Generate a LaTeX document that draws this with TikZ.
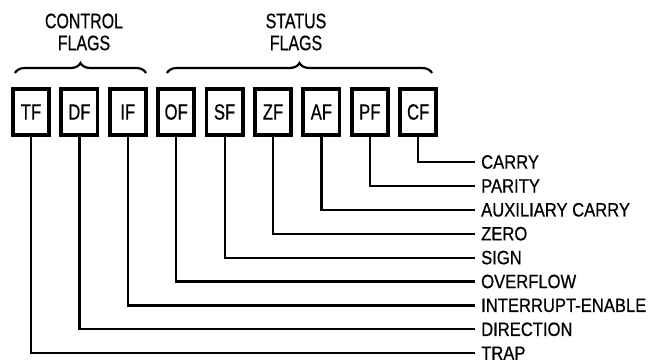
\documentclass[tikz,border=0pt]{standalone}
\usepackage{fontspec}
\setmainfont{Liberation Sans}
\newfontfamily\narrowfont[FakeStretch=0.76, FakeBold=0.6]{Liberation Sans}
\newfontfamily\labelfont[FakeStretch=0.86, FakeBold=0.6]{Liberation Sans}
\usetikzlibrary{decorations.pathreplacing}

\tikzset{
  flagbox/.style={draw, line width=3.8pt, minimum width=36.2pt, minimum height=46.2pt,
    inner sep=0pt, font=\narrowfont\fontsize{22}{22}\selectfont},
  flagname/.style={anchor=west, inner sep=0pt, xshift=6pt, font=\labelfont\fontsize{19.3}{19.3}\selectfont},
  heading/.style={align=center, inner sep=0pt, font=\narrowfont\fontsize{21}{22}\selectfont},
  wire/.style={line width=2.2pt},
  group/.style={line width=2.2pt, decorate, decoration={brace, amplitude=10pt}}
}

\begin{document}
\begin{tikzpicture}[x=1pt, y=-1pt]
\useasboundingbox (0,0) rectangle (653,362);
% the flag register, left to right
\node[flagbox] (tf) at (31,112) {TF};
\node[flagbox] (df) at (79.4,112) {DF};
\node[flagbox] (if) at (127.8,112) {IF};
\node[flagbox] (of) at (176.2,112) {OF};
\node[flagbox] (sf) at (224.6,112) {SF};
\node[flagbox] (zf) at (273,112) {ZF};
\node[flagbox] (af) at (321.4,112) {AF};
\node[flagbox] (pf) at (369.8,112) {PF};
\node[flagbox] (cf) at (418.2,112) {CF};
% group braces and headings
\draw[group] (15,73) -- (146,73);
\draw[group] (167,73) -- (432,73);
\node[heading] (ctrl) at (84,32) {CONTROL\\FLAGS};
\node[heading] (stat) at (296,32) {STATUS\\FLAGS};
% flag names
\node[flagname] (carry) at (475,162) {CARRY};
\node[flagname] (parity) at (475,185.9) {PARITY};
\node[flagname] (auxcarry) at (475,209.8) {AUXILIARY CARRY};
\node[flagname] (zero) at (475,233.7) {ZERO};
\node[flagname] (sign) at (475,257.6) {SIGN};
\node[flagname] (overflow) at (475,281.5) {OVERFLOW};
\node[flagname] (interrupt) at (475,305.4) {INTERRUPT-ENABLE};
\node[flagname] (direction) at (475,329.3) {DIRECTION};
\node[flagname] (trap) at (475,353.2) {TRAP};
% leads from each flag to its name
\draw[wire] (cf.south) |- ([xshift=-6pt]carry.west);
\draw[wire] (pf.south) |- ([xshift=-6pt]parity.west);
\draw[wire] (af.south) |- ([xshift=-6pt]auxcarry.west);
\draw[wire] (zf.south) |- ([xshift=-6pt]zero.west);
\draw[wire] (sf.south) |- ([xshift=-6pt]sign.west);
\draw[wire] (of.south) |- ([xshift=-6pt]overflow.west);
\draw[wire] (if.south) |- ([xshift=-6pt]interrupt.west);
\draw[wire] (df.south) |- ([xshift=-6pt]direction.west);
\draw[wire] (tf.south) |- ([xshift=-6pt]trap.west);
\end{tikzpicture}
\end{document}
